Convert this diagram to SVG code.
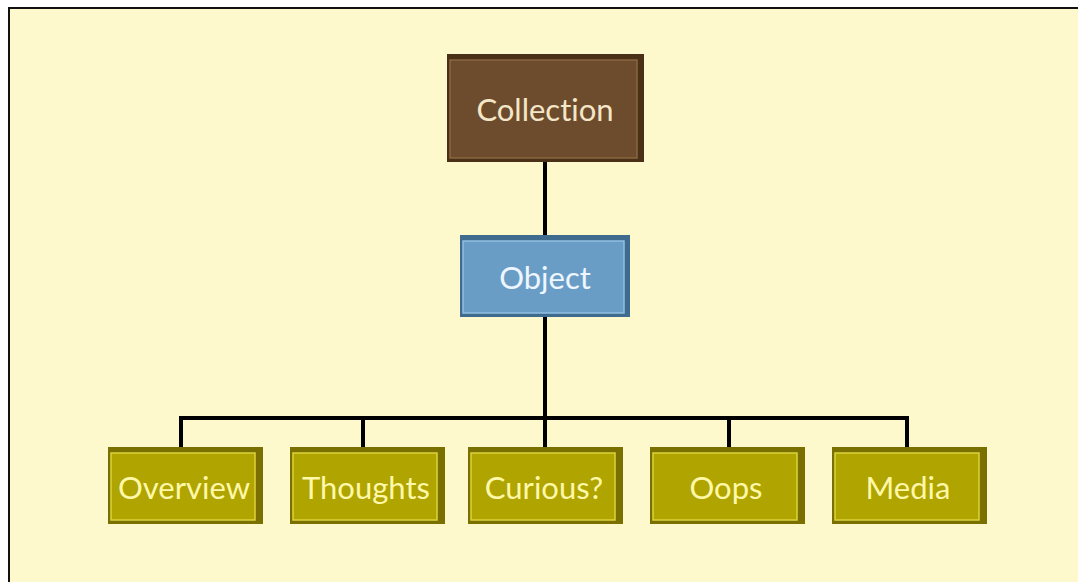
<svg xmlns="http://www.w3.org/2000/svg" width="1078" height="582" viewBox="0 0 1078 582">
<style>
.lbl{font-family:Lato,"Open Sans",sans-serif;font-size:31px;text-anchor:middle;dominant-baseline:central;font-variant-ligatures:none}
.con{stroke:#000;stroke-width:4;fill:none}
.olive{fill:#7A7000}
.oin{fill:#AFA400;stroke:#DCD33A;stroke-width:1.5}
.otx{fill:#FFF8A8}
</style>
<rect x="0" y="0" width="1078" height="582" fill="#fff"/>
<rect x="9" y="8" width="1080" height="590" fill="#FDF9CC" stroke="#111" stroke-width="2"/>
<g id="connectors">
<line class="con" x1="545" y1="160" x2="545" y2="236"/>
<line class="con" x1="545" y1="316" x2="545" y2="418"/>
<polyline class="con" points="181,448 181,418 907,418 907,448"/>
<line class="con" x1="363" y1="418" x2="363" y2="448"/>
<line class="con" x1="545" y1="418" x2="545" y2="448"/>
<line class="con" x1="729" y1="418" x2="729" y2="448"/>
</g>
<g id="collection">
<rect x="447" y="54" width="197" height="108" fill="#4A3016"/>
<rect x="450" y="60" width="187" height="98" fill="#6C4C2C" stroke="#8A6640" stroke-width="1.5"/>
<text class="lbl" x="545" y="109" fill="#F4E6C8">Collection</text>
</g>
<g id="object">
<rect x="460" y="235" width="170" height="82" fill="#3E6B8E"/>
<rect x="463" y="241" width="161" height="72" fill="#6A9DC6" stroke="#90C0E2" stroke-width="1.5"/>
<text class="lbl" x="545" y="277" fill="#EEF6FF">Object</text>
</g>
<g id="overview">
<rect class="olive" x="108" y="447" width="155" height="77"/>
<rect class="oin" x="111" y="453" width="144" height="67"/>
<text class="lbl otx" x="184" y="487">Overview</text>
</g>
<g id="thoughts">
<rect class="olive" x="290" y="447" width="155" height="77"/>
<rect class="oin" x="293" y="453" width="144" height="67"/>
<text class="lbl otx" x="366" y="487">Thoughts</text>
</g>
<g id="curious">
<rect class="olive" x="468" y="447" width="155" height="77"/>
<rect class="oin" x="471" y="453" width="144" height="67"/>
<text class="lbl otx" x="544" y="487">Curious?</text>
</g>
<g id="oops">
<rect class="olive" x="650" y="447" width="155" height="77"/>
<rect class="oin" x="653" y="453" width="144" height="67"/>
<text class="lbl otx" x="726" y="487">Oops</text>
</g>
<g id="media">
<rect class="olive" x="832" y="447" width="155" height="77"/>
<rect class="oin" x="835" y="453" width="144" height="67"/>
<text class="lbl otx" x="908" y="487">Media</text>
</g>
</svg>
